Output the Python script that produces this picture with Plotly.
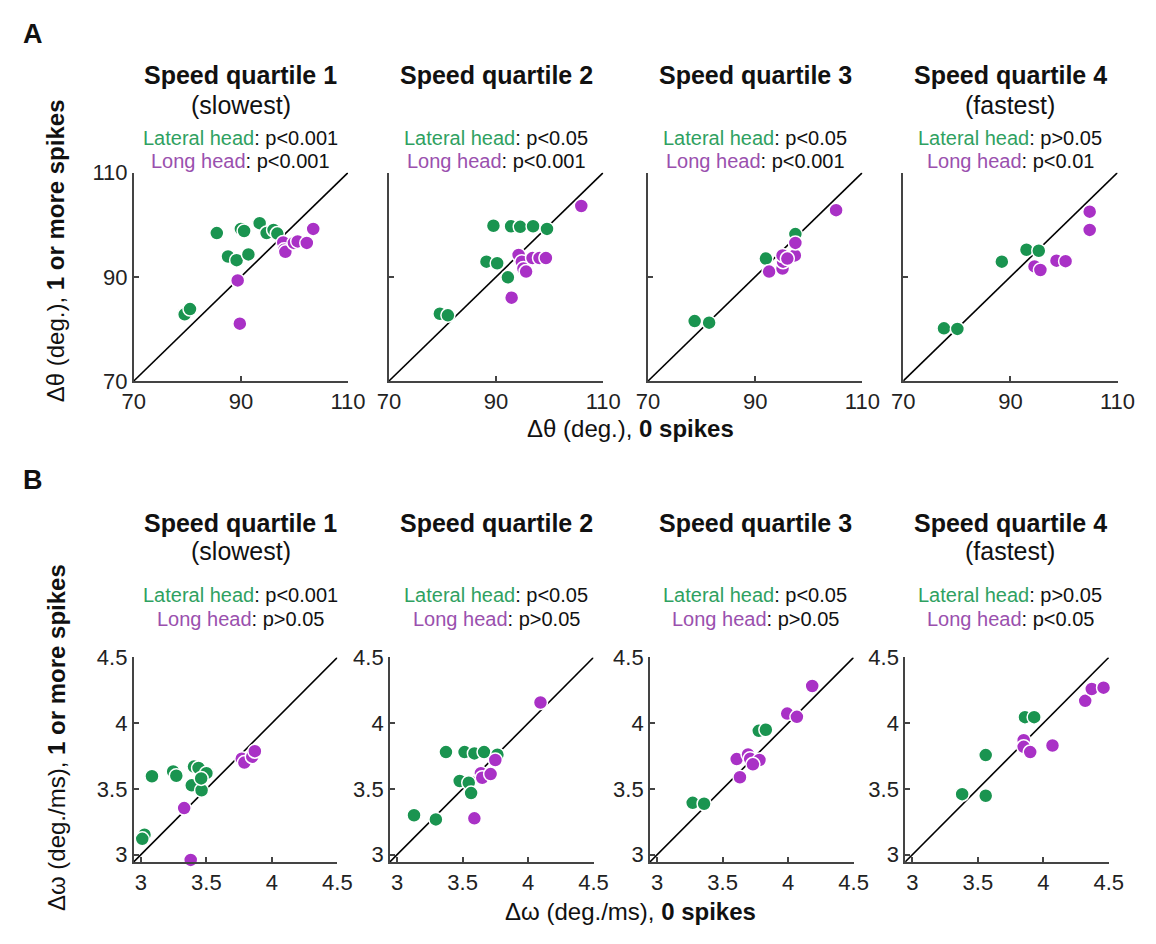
import plotly.graph_objects as go

W, H = 1156, 944

# ---------------- Data ----------------
quartile_titles = ["Speed quartile 1", "Speed quartile 2", "Speed quartile 3", "Speed quartile 4"]
quartile_sub = ["(slowest)", "", "", "(fastest)"]

# Row A: delta theta (deg.)
theta_lat_x = [
    [85.5, 90.0, 90.6, 93.5, 94.8, 96.1, 96.8, 87.6, 89.2, 91.4, 79.5, 80.5],
    [89.5, 92.8, 94.5, 96.9, 99.5, 88.2, 90.2, 92.2, 79.5, 81.0],
    [78.7, 81.4, 92.0, 97.5],
    [77.6, 80.1, 88.4, 93.0, 95.3],
]
theta_lat_y = [
    [98.4, 99.2, 98.8, 100.3, 98.4, 99.0, 98.3, 93.9, 93.2, 94.3, 82.8, 83.8],
    [99.8, 99.7, 99.6, 99.7, 99.2, 92.9, 92.6, 89.9, 82.9, 82.6],
    [81.5, 81.2, 93.5, 98.2],
    [80.1, 80.0, 92.9, 95.2, 95.0],
]
theta_long_x = [
    [89.4, 89.8, 97.9, 98.1, 98.3, 99.9, 100.6, 102.3, 103.5],
    [94.2, 94.8, 95.1, 95.6, 96.8, 98.1, 99.3, 92.9, 105.9],
    [92.6, 95.1, 95.2, 95.1, 97.4, 97.5, 105.1, 96.0],
    [94.5, 95.6, 98.6, 100.3, 104.8, 104.8],
]
theta_long_y = [
    [89.3, 81.0, 96.6, 95.2, 94.8, 96.5, 96.8, 96.5, 99.2],
    [94.2, 92.9, 91.6, 91.0, 93.6, 93.6, 93.6, 86.0, 103.6],
    [91.0, 91.6, 92.9, 94.1, 94.1, 96.5, 102.8, 93.5],
    [92.0, 91.3, 93.1, 93.0, 102.5, 99.0],
]
theta_p_lat = ["p&lt;0.001", "p&lt;0.05", "p&lt;0.05", "p&gt;0.05"]
theta_p_long = ["p&lt;0.001", "p&lt;0.001", "p&lt;0.001", "p&lt;0.01"]
theta_range = [70, 110]
theta_ticks = [70, 90, 110]

# Row B: delta omega (deg./ms)
omega_lat_x = [
    [3.084, 3.246, 3.27, 3.405, 3.44, 3.388, 3.463, 3.50, 3.46, 3.027, 3.01],
    [3.129, 3.296, 3.373, 3.515, 3.59, 3.664, 3.766, 3.478, 3.547, 3.565],
    [3.271, 3.358, 3.776, 3.83],
    [3.38, 3.56, 3.56, 3.86, 3.93],
]
omega_lat_y = [
    [3.596, 3.633, 3.60, 3.67, 3.66, 3.527, 3.49, 3.62, 3.58, 3.152, 3.12],
    [3.30, 3.268, 3.78, 3.78, 3.77, 3.78, 3.76, 3.56, 3.547, 3.468],
    [3.394, 3.387, 3.942, 3.95],
    [3.46, 3.757, 3.448, 4.046, 4.046],
]
omega_long_x = [
    [3.33, 3.38, 3.77, 3.79, 3.85, 3.87],
    [3.59, 4.095, 3.64, 3.65, 3.714, 3.75],
    [3.632, 3.607, 3.694, 3.71, 3.781, 3.731, 3.993, 4.067, 4.184],
    [3.85, 3.85, 3.90, 4.07, 4.32, 4.37, 4.46],
]
omega_long_y = [
    [3.354, 2.96, 3.73, 3.70, 3.745, 3.787],
    [3.276, 4.157, 3.62, 3.585, 3.613, 3.72],
    [3.589, 3.727, 3.762, 3.73, 3.72, 3.687, 4.073, 4.048, 4.283],
    [3.87, 3.82, 3.78, 3.83, 4.17, 4.26, 4.27],
]
omega_p_lat = ["p&lt;0.001", "p&lt;0.05", "p&lt;0.05", "p&gt;0.05"]
omega_p_long = ["p&gt;0.05", "p&gt;0.05", "p&gt;0.05", "p&lt;0.05"]
omega_range = [2.945, 4.5]
omega_ticks = [3, 3.5, 4, 4.5]
omega_ticktext = ["3", "3.5", "4", "4.5"]

# ---------------- Style ----------------
GREEN = "#1a9450"
PURPLE = "#a931c6"
GREEN_TXT = "#2fa161"
PURPLE_TXT = "#9a50ae"
AXC = "#444444"
FONT = "Liberation Sans, Arial, sans-serif"

# panel pixel boxes
rowA_x = [(125, 345), (387, 607), (653, 873), (915, 1135)]
rowA_y = (165, 379)
rowB_x = [(125, 334), (388, 597), (655, 864), (917, 1126)]
rowB_y = (663, 873)
col_centers = [235, 497, 763, 1025]


def px(x):
    return x / W


def py(y):
    return 1 - y / H


fig = go.Figure()
layout = dict(
    width=W, height=H, margin=dict(l=0, r=0, t=0, b=0),
    paper_bgcolor="white", plot_bgcolor="white", showlegend=False,
    font=dict(family=FONT, color="#222222", size=20),
)
annotations = []


def axis_common():
    return dict(showline=True, linecolor=AXC, linewidth=1.8, ticks="inside",
                ticklen=5, tickcolor=AXC, tickwidth=1.5, showgrid=False,
                zeroline=False, tickfont=dict(size=22, family=FONT, color="#222222"))


def add_panel(idx, xbox, ybox, rng, ticks, ticktext, lat_x, lat_y, long_x, long_y, show_y):
    xa = "x" if idx == 1 else f"x{idx}"
    ya = "y" if idx == 1 else f"y{idx}"
    xkey = "xaxis" if idx == 1 else f"xaxis{idx}"
    ykey = "yaxis" if idx == 1 else f"yaxis{idx}"
    ax = axis_common()
    ax.update(domain=[px(xbox[0]), px(xbox[1])], range=rng, anchor=ya,
              tickvals=ticks, ticktext=ticktext)
    ay = axis_common()
    ay.update(domain=[py(ybox[1]), py(ybox[0])], range=rng, anchor=xa,
              tickvals=ticks, ticktext=ticktext, showticklabels=show_y)
    layout[xkey] = ax
    layout[ykey] = ay
    fig.add_trace(go.Scatter(x=[rng[0], rng[1]], y=[rng[0], rng[1]], mode="lines",
                             line=dict(color="black", width=1.6), xaxis=xa, yaxis=ya,
                             hoverinfo="skip"))
    fig.add_trace(go.Scatter(x=lat_x, y=lat_y, mode="markers", xaxis=xa, yaxis=ya,
                             cliponaxis=False,
                             marker=dict(size=14, color=GREEN, line=dict(color="white", width=1.5))))
    fig.add_trace(go.Scatter(x=long_x, y=long_y, mode="markers", xaxis=xa, yaxis=ya,
                             cliponaxis=False,
                             marker=dict(size=14, color=PURPLE, line=dict(color="white", width=1.5))))


def text(x, y, s, size, bold=False, angle=0, xanchor="center"):
    annotations.append(dict(
        x=px(x), y=py(y), xref="paper", yref="paper", text=(f"<b>{s}</b>" if bold else s),
        showarrow=False, font=dict(size=size, family=FONT, color="#111111"),
        textangle=angle, xanchor=xanchor, yanchor="middle"))


theta_ticktext = [str(t) for t in theta_ticks]

for i in range(4):
    add_panel(i + 1, rowA_x[i], rowA_y, theta_range, theta_ticks, theta_ticktext,
              theta_lat_x[i], theta_lat_y[i], theta_long_x[i], theta_long_y[i], show_y=(i == 0))
    add_panel(i + 5, rowB_x[i], rowB_y, omega_range, omega_ticks, omega_ticktext,
              omega_lat_x[i], omega_lat_y[i], omega_long_x[i], omega_long_y[i], show_y=True)

for i in range(4):
    c = col_centers[i]
    # Row A headers
    text(c, 65, quartile_titles[i], 25, bold=True)
    if quartile_sub[i]:
        text(c, 96, quartile_sub[i], 25)
    text(c, 129, f'<span style="color:{GREEN_TXT}">Lateral head</span>: {theta_p_lat[i]}', 20)
    text(c, 153, f'<span style="color:{PURPLE_TXT}">Long head</span>: {theta_p_long[i]}', 20)
    # Row B headers
    text(c, 525, quartile_titles[i], 25, bold=True)
    if quartile_sub[i]:
        text(c, 554, quartile_sub[i], 25)
    text(c, 599, f'<span style="color:{GREEN_TXT}">Lateral head</span>: {omega_p_lat[i]}', 20)
    text(c, 624, f'<span style="color:{PURPLE_TXT}">Long head</span>: {omega_p_long[i]}', 20)

# panel letters
text(22, 23, "A", 27, bold=True)
text(22, 481, "B", 27, bold=True)

# axis titles
text(45, 245, "Δθ (deg.), <b>1 or more spikes</b>", 24, angle=-90)
text(635, 428, "Δθ (deg.), <b>0 spikes</b>", 24)
text(45, 745, "Δω (deg./ms), <b>1 or more spikes</b>", 24, angle=-90)
text(635, 924, "Δω (deg./ms), <b>0 spikes</b>", 24)

layout["annotations"] = annotations
fig.update_layout(**layout)
fig.write_html("out.html")
